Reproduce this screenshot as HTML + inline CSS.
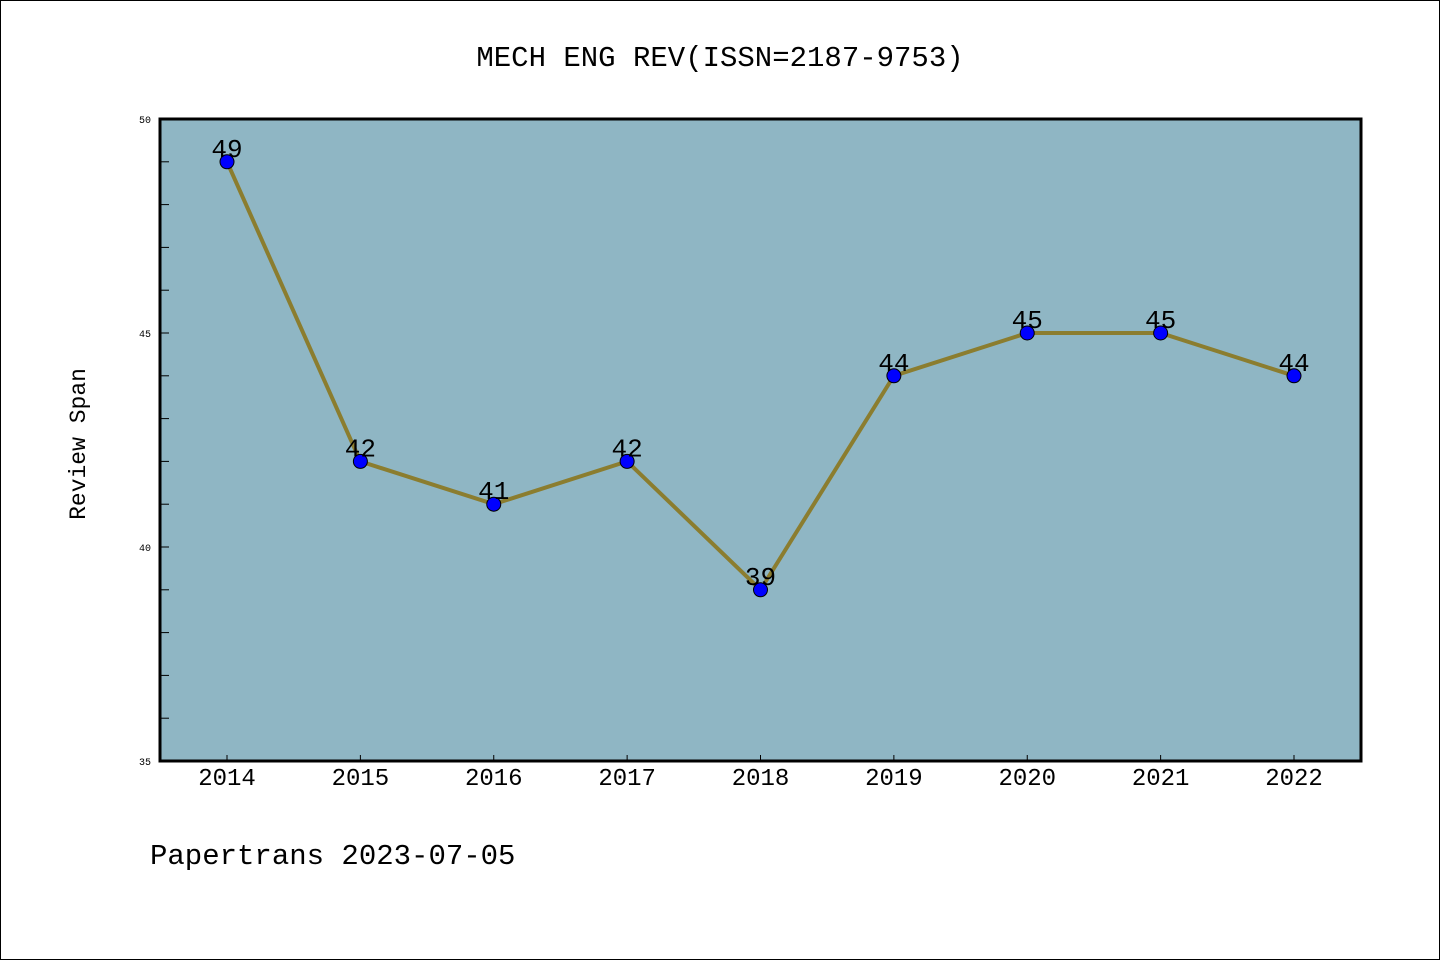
<!DOCTYPE html>
<html><head><meta charset="utf-8"><style>
body{margin:0;background:#fff}
svg{display:block}
text{font-family:"Liberation Mono","DejaVu Sans Mono",monospace}
</style></head><body>
<svg id="chart" width="1440" height="960">
<rect x="0.5" y="0.5" width="1439" height="959" fill="#fff" stroke="#000"/>
<text x="720" y="66" text-anchor="middle" font-size="29">MECH ENG REV(ISSN=2187-9753)</text>
<rect x="160" y="119" width="1201" height="642" fill="#8fb6c4"/>
<g id="axes"></g>
<g id="series"></g>
<rect x="160" y="119" width="1201" height="642" fill="none" stroke="#000" stroke-width="3"/>
<text transform="translate(85,444) rotate(-90)" text-anchor="middle" font-size="23">Review Span</text>
<text x="150" y="864" font-size="29">Papertrans 2023-07-05</text>
</svg>
<script>
const categories=["2014","2015","2016","2017","2018","2019","2020","2021","2022"];
const values=[49,42,41,42,39,44,45,45,44];
const yTicks=[35,40,45,50];
const NS="http://www.w3.org/2000/svg";
const x0=227,dx=(1294-227)/8;
function xs(i){return x0+i*dx;}
function ys(v){return 761-(v-35)*(642/15);}
function mk(t,a,p){const e=document.createElementNS(NS,t);for(const k in a)e.setAttribute(k,a[k]);p.appendChild(e);return e;}
const ax=document.getElementById('axes'),sr=document.getElementById('series');
for(let v=36;v<50;v++){const l=mk('line',{x1:160,x2:169,y1:ys(v),y2:ys(v),stroke:'#000','stroke-width':1},ax);

}
yTicks.forEach(v=>{const t=mk('text',{x:151,y:ys(v)+4,'text-anchor':'end','font-size':10},ax);t.textContent=v;

});
categories.forEach((c,i)=>{const l=mk('line',{x1:xs(i),x2:xs(i),y1:761,y2:755,stroke:'#000','stroke-width':1},ax);


const t=mk('text',{x:xs(i),y:785,'text-anchor':'middle','font-size':24},ax);t.textContent=c;

});
const line=mk('polyline',{points:values.map((v,i)=>xs(i)+','+ys(v)).join(' '),fill:'none',stroke:'#8b7d2f','stroke-width':4},sr);


values.forEach((v,i)=>{const c=mk('circle',{cx:xs(i),cy:ys(v),r:7,fill:'#0000ff',stroke:'#000','stroke-width':1},sr);


const t=mk('text',{x:xs(i),y:ys(v)-5,'text-anchor':'middle','font-size':26},sr);t.textContent=v;

});
</script>
</body></html>
